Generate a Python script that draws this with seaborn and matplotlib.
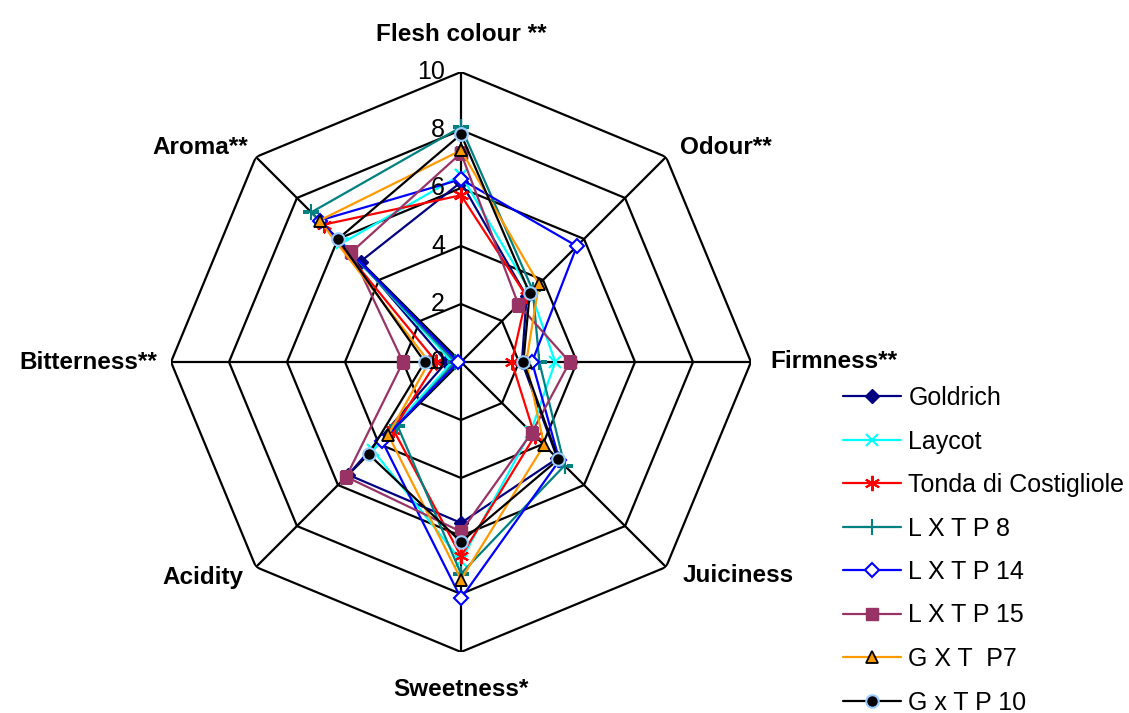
import numpy as np
import matplotlib
matplotlib.use("Agg")
import matplotlib.pyplot as plt
from matplotlib.lines import Line2D
import seaborn as sns

sns.set_theme(style="white")
plt.rcParams['font.family'] = ['Liberation Sans', 'DejaVu Sans']
plt.rcParams['text.color'] = 'black'

categories = ["Flesh colour **", "Odour**", "Firmness**", "Juiciness",
              "Sweetness*", "Acidity", "Bitterness**", "Aroma**"]

goldrich = [6.2, 3.2, 2.1, 4.7, 5.55, 5.5, 0.5, 4.9]
laycot = [6.45, 3.4, 3.25, 3.4, 6.85, 4.3, 0.3, 5.8]
tonda = [5.75, 3.2, 1.75, 3.6, 6.7, 3.3, 0.85, 6.7]
lxtp8 = [8.1, 3.5, 2.7, 5.05, 7.3, 3.1, 0.2, 7.3]
lxtp14 = [6.3, 5.65, 2.45, 4.8, 8.15, 3.85, 0.1, 6.9]
lxtp15 = [7.2, 2.8, 3.75, 3.45, 5.85, 5.6, 2.0, 5.35]
gxtp7 = [7.3, 3.8, 2.25, 4.05, 7.5, 3.55, 1.1, 6.9]
gxtp10 = [7.85, 3.35, 2.15, 4.75, 6.2, 4.5, 1.25, 6.0]

series_names = ["Goldrich", "Laycot", "Tonda di Costigliole", "L X T P 8",
                "L X T P 14", "L X T P 15", "G X T  P7", "G x T P 10"]
series_values = [goldrich, laycot, tonda, lxtp8, lxtp14, lxtp15, gxtp7, gxtp10]

tick_values = [0, 2, 4, 6, 8, 10]

styles = [
    dict(color="#000080", marker="D", mfc="#000080", mec="#000080", ms=7),
    dict(color="#00FFFF", marker="x", mfc="#00FFFF", mec="#00FFFF", ms=9, mew=1.5),
    dict(color="#FF0000", marker=(6, 2, 0), mfc="#FF0000", mec="#FF0000", ms=11, mew=1.5),
    dict(color="#008080", marker="+", mfc="#008080", mec="#008080", ms=12, mew=1.5),
    dict(color="#0000FF", marker="D", mfc="white", mec="#0000FF", ms=7, mew=1.5),
    dict(color="#993366", marker="s", mfc="#993366", mec="#993366", ms=9),
    dict(color="#FF9900", marker="^", mfc="#FF9900", mec="black", ms=9, mew=1.3),
    dict(color="black", marker="o", mfc="black", mec="#99CCFF", ms=9, mew=1.5),
]

W, H = 1129, 713
fig = plt.figure(figsize=(W / 100, H / 100), dpi=100)
cx, cy, R = 461, 362, 290
ax = fig.add_axes([(cx - R) / W, (H - cy - R) / H, 2 * R / W, 2 * R / H], projection="polar")
ax.set_theta_zero_location("N")
ax.set_theta_direction(-1)
ax.set_ylim(0, 10)
ax.grid(False)
ax.spines["polar"].set_visible(False)
ax.set_xticks([])
ax.set_yticks([])
ax.patch.set_alpha(0)

n = len(categories)
theta = np.linspace(0, 2 * np.pi, n, endpoint=False)
theta_closed = np.append(theta, 2 * np.pi)

# polygon grid
for r in tick_values[1:]:
    ax.plot(theta_closed, [r] * (n + 1), color="black", lw=1.6, zorder=1)
for t in theta:
    ax.plot([t, t], [0, 10], color="black", lw=1.6, zorder=1)

# data
for vals, st in zip(series_values, styles):
    v = np.append(vals, vals[0])
    sns.lineplot(x=theta_closed, y=v, ax=ax, sort=False, estimator=None,
                 color=st["color"], lw=1.6, marker=st["marker"],
                 markerfacecolor=st["mfc"], markeredgecolor=st["mec"],
                 markersize=st["ms"], markeredgewidth=st.get("mew", 1.0), zorder=3)
ax.set_xlabel("")
ax.set_ylabel("")

# radial tick labels
for tv in tick_values:
    ax.annotate(str(tv), xy=(0, tv), xytext=(-16, 0), textcoords="offset pixels",
                ha="right", va="center", fontsize=18, color="black", zorder=5)

# category labels (offsets in pixels from the outer vertex)
label_pos = [
    ((0, 26), "center", "bottom"),
    ((14, 9), "left", "center"),
    ((19, 0), "left", "center"),
    ((17, -8), "left", "center"),
    ((0, -26), "center", "top"),
    ((-13, -10), "right", "center"),
    ((-14, 0), "right", "center"),
    ((-8, 9), "right", "center"),
]
for t, lab, (off, ha, va) in zip(theta, categories, label_pos):
    ax.annotate(lab, xy=(t, 10), xytext=off, textcoords="offset pixels",
                ha=ha, va=va, fontsize=17.5, fontweight="bold", color="black")

# legend
handles = []
for name, st in zip(series_names, styles):
    handles.append(Line2D([0], [0], color=st["color"], lw=1.6, marker=st["marker"],
                          markerfacecolor=st["mfc"], markeredgecolor=st["mec"],
                          markersize=st["ms"], markeredgewidth=st.get("mew", 1.0)))
leg = fig.legend(handles, series_names, loc="upper left",
                 bbox_to_anchor=(843 / W, 1 - 386 / H), frameon=False, fontsize=18,
                 handlelength=2.3, handletextpad=0.32, labelspacing=0.78,
                 borderpad=0, borderaxespad=0)
for txt in leg.get_texts():
    txt.set_color("black")

fig.savefig("out.png", dpi=100)
